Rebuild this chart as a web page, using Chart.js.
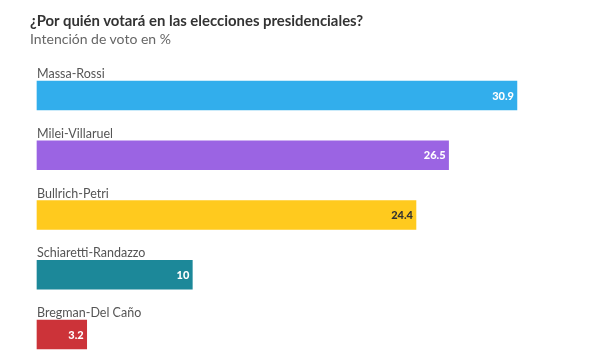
<!DOCTYPE html>
<html>
<head>
<meta charset="utf-8">
<script src="https://cdn.jsdelivr.net/npm/chart.js@4/dist/chart.umd.min.js"></script>
<style>
html,body{margin:0;padding:0;background:#fff;width:591px;height:357px;overflow:hidden;}
#wrap{position:relative;width:591px;height:357px;}
canvas{position:absolute;left:0;top:0;}
.t{position:absolute;left:30px;white-space:nowrap;font-family:Lato,"Noto Sans",sans-serif;line-height:1;}
#title{top:13px;font-size:14.9px;font-weight:bold;color:#333;}
#sub{top:32px;font-size:14px;color:#666;}
</style>
</head>
<body>
<div id="wrap">
<canvas id="c" width="591" height="357"></canvas>
<div class="t" id="title">¿Por quién votará en las elecciones presidenciales?</div>
<div class="t" id="sub">Intención de voto en %</div>
</div>
<script>
const categories = ["Massa-Rossi", "Milei-Villaruel", "Bullrich-Petri", "Schiaretti-Randazzo", "Bregman-Del Caño"];
const values = [30.9, 26.5, 24.4, 10, 3.2];
const valueLabels = ["30.9", "26.5", "24.4", "10", "3.2"];
const barColors = ["#32AEEC", "#9B64E3", "#FFCA1E", "#1C8899", "#CC3339"];
const valueTextColors = ["#ffffff", "#ffffff", "#333333", "#ffffff", "#ffffff"];

const FONT = 'Lato, "Noto Sans", sans-serif';

const labelPlugin = {
  id: 'labels',
  afterDatasetsDraw(chart) {
    const ctx = chart.ctx;
    const meta = chart.getDatasetMeta(0);
    ctx.save();
    meta.data.forEach((bar, i) => {
      const top = bar.y - bar.height / 2;
      ctx.font = '12.5px ' + FONT;
      ctx.fillStyle = '#555';
      ctx.textAlign = 'left';
      ctx.textBaseline = 'alphabetic';
      ctx.fillText(categories[i], bar.base, top - 3);
      ctx.font = '900 11px ' + FONT;
      ctx.fillStyle = valueTextColors[i];
      ctx.textAlign = 'right';
      ctx.textBaseline = 'middle';
      ctx.fillText(valueLabels[i], bar.x - 3, bar.y + 0.5);
    });
    ctx.restore();
  }
};

new Chart(document.getElementById('c'), {
  type: 'bar',
  data: {
    labels: categories,
    datasets: [{
      data: values,
      backgroundColor: barColors,
      barThickness: 29,
      clip: false
    }]
  },
  options: {
    indexAxis: 'y',
    responsive: false,
    animation: false,
    layout: { padding: { left: 37, right: 10.4, top: 95.5, bottom: 22.5 } },
    scales: {
      x: { display: false, min: 0, max: 35 },
      y: { display: false, offset: false }
    },
    plugins: { legend: { display: false }, tooltip: { enabled: false } }
  },
  plugins: [labelPlugin]
});
</script>
</body>
</html>
